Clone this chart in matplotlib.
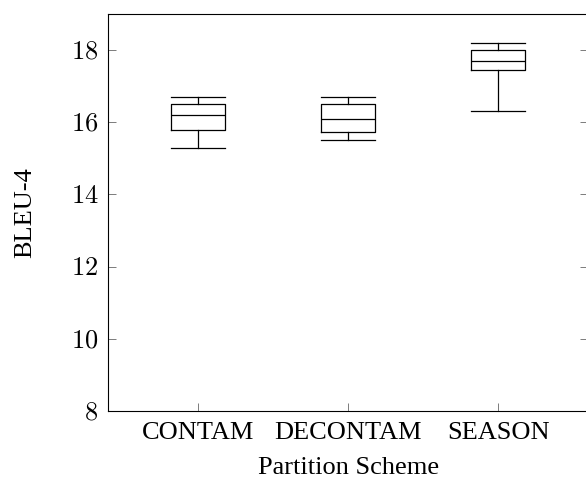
import matplotlib
matplotlib.use("Agg")
import matplotlib.pyplot as plt

plt.rcParams["font.family"] = ["Liberation Serif", "DejaVu Serif"]
plt.rcParams["mathtext.fontset"] = "cm"

# ── 数据 ──────────────────────────────────────────
schemes  = ["CONTAM", "DECONTAM", "SEASON"]
whislo   = [15.3, 15.5, 16.3]
q1       = [15.8, 15.72, 17.45]
med      = [16.2, 16.1, 17.7]
q3       = [16.5, 16.52, 18.0]
whishi   = [16.7, 16.7, 18.2]
yticks   = [8, 10, 12, 14, 16, 18]

stats = [dict(label=s, whislo=a, q1=b, med=c, q3=d, whishi=e)
         for s, a, b, c, d, e in zip(schemes, whislo, q1, med, q3, whishi)]

fig = plt.figure(figsize=(5.86, 4.78), dpi=100)
ax = fig.add_axes([0.1843, 0.140, 0.8196, 0.8307])

lw = 0.9
ax.bxp(stats, positions=[1, 2, 3], widths=0.36, showfliers=False,
       boxprops=dict(color="black", linewidth=lw),
       medianprops=dict(color="black", linewidth=lw),
       whiskerprops=dict(color="black", linewidth=lw),
       capprops=dict(color="black", linewidth=lw),
       capwidths=0.36)

ax.set_xlim(0.4, 3.6)
ax.set_ylim(8, 19)
ax.set_yticks(yticks)
ax.set_yticklabels([f"${v}$" for v in yticks])
ax.set_xticks([1, 2, 3])
ax.set_xticklabels(schemes)
ax.tick_params(axis="both", direction="in", length=6, width=0.6,
               colors="#666666", labelcolor="black", labelsize=19,
               right=True, top=False)
ax.tick_params(axis="x", pad=8)
ax.tick_params(axis="y", pad=7)
for sp in ax.spines.values():
    sp.set_linewidth(0.8)
ax.set_xlabel("Partition Scheme", fontsize=19, labelpad=9)
ax.set_ylabel("BLEU-4", fontsize=19, labelpad=25)

plt.savefig("out.png", dpi=100)
plt.close()
